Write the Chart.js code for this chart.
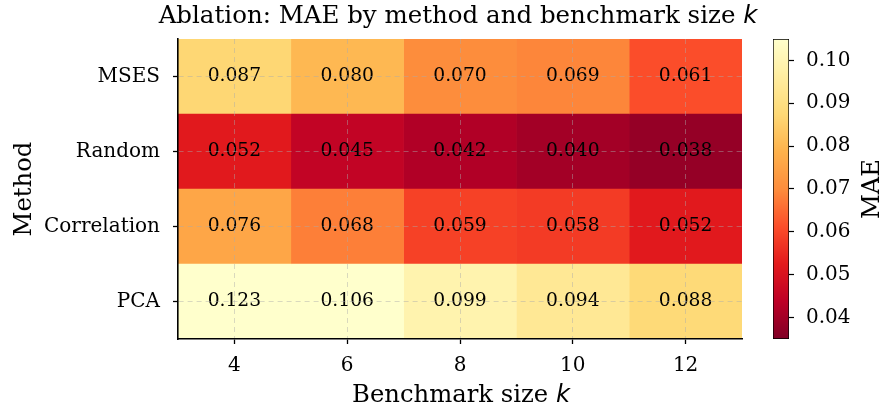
<!DOCTYPE html>
<html lang="en">
<head>
    <meta charset="UTF-8">
    <title>Ablation: MAE by method and benchmark size k</title>
    <script src="https://cdn.jsdelivr.net/npm/chart.js"></script>
    <style>
        body { margin: 0; background: #fff; }
        #wrap { position: relative; width: 881px; height: 410px; }
        #heat { position: absolute; left: 0; top: 0; }
        #cbar { position: absolute; left: 745px; top: 0; }
    </style>
</head>
<body>

    <div id="wrap">
        <canvas id="heat" width="881" height="410"></canvas>
        <canvas id="cbar" width="136" height="410"></canvas>
    </div>

    <script>
        // Data
        const methods = ["MSES", "Random", "Correlation", "PCA"];
        const sizes = [4, 6, 8, 10, 12];
        const maeMSES = [0.087, 0.080, 0.070, 0.069, 0.061];
        const maeRandom = [0.052, 0.045, 0.042, 0.040, 0.038];
        const maeCorrelation = [0.076, 0.068, 0.059, 0.058, 0.052];
        const maePCA = [0.123, 0.106, 0.099, 0.094, 0.088];
        const colorbarTicks = [0.04, 0.05, 0.06, 0.07, 0.08, 0.09, 0.10];
        const VMIN = 0.035, VMAX = 0.105;

        const rows = [maeMSES, maeRandom, maeCorrelation, maePCA];
        const SERIF = "'DejaVu Serif', serif";
        Chart.defaults.color = "#000";
        Chart.defaults.font.family = SERIF;

        // YlOrRd reversed (low = dark red, high = pale yellow)
        const YLORRD = ["#ffffcc", "#ffeda0", "#fed976", "#feb24c", "#fd8d3c", "#fc4e2a", "#e31a1c", "#bd0026", "#800026"];
        function hex(h) { return [1, 3, 5].map(i => parseInt(h.substr(i, 2), 16)); }
        function cmap(v) {
            let t = (v - VMIN) / (VMAX - VMIN);
            t = Math.min(1, Math.max(0, t));
            const p = (1 - t) * (YLORRD.length - 1);
            const i = Math.min(Math.floor(p), YLORRD.length - 2);
            const f = p - i;
            const a = hex(YLORRD[i]), b = hex(YLORRD[i + 1]);
            const c = a.map((x, k) => Math.round(x + (b[k] - x) * f));
            return `rgb(${c[0]},${c[1]},${c[2]})`;
        }

        // one floating-bar dataset per benchmark size, spanning k-1 .. k+1
        const datasets = sizes.map((k, j) => ({
            data: methods.map(() => [k - 1, k + 1]),
            values: rows.map(r => r[j]),
            backgroundColor: rows.map(r => cmap(r[j])),
            borderWidth: 0,
            grouped: false,
            barPercentage: 1,
            categoryPercentage: 1
        }));

        const cellLabels = {
            id: "cellLabels",
            afterDatasetsDraw(chart) {
                const ctx = chart.ctx;
                ctx.save();
                ctx.font = "18.7px " + SERIF;
                ctx.fillStyle = "#000";
                ctx.textAlign = "center";
                ctx.textBaseline = "middle";
                chart.data.datasets.forEach((ds, j) => {
                    chart.getDatasetMeta(j).data.forEach((bar, i) => {
                        const x = chart.scales.x.getPixelForValue(sizes[j]);
                        ctx.fillText(ds.values[i].toFixed(3), x, bar.y);
                    });
                });
                ctx.restore();
            }
        };

        // title and x label have an italic "k", so they are drawn as two runs
        function mixedText(ctx, cx, y, plain, plainFont, ital, italFont) {
            ctx.font = plainFont;
            const w1 = ctx.measureText(plain).width;
            ctx.font = italFont;
            const w2 = ctx.measureText(ital).width;
            let x = cx - (w1 + w2) / 2;
            ctx.textAlign = "left";
            ctx.textBaseline = "alphabetic";
            ctx.font = plainFont;
            ctx.fillText(plain, x, y);
            ctx.font = italFont;
            ctx.fillText(ital, x + w1, y);
        }

        const headings = {
            id: "headings",
            afterDraw(chart) {
                const ctx = chart.ctx;
                const a = chart.chartArea;
                const cx = (a.left + a.right) / 2;
                ctx.save();
                ctx.fillStyle = "#000";
                mixedText(ctx, cx - 2, 23, "Ablation: MAE by method and benchmark size ", "24.5px " + SERIF,
                    "k", "italic 24.5px 'DejaVu Sans'");
                mixedText(ctx, cx + 1, 401.5, "Benchmark size ", "24.3px " + SERIF,
                    "k", "italic 24.3px 'DejaVu Sans'");
                ctx.restore();
            }
        };

        const gridStyle = {
            z: 1,
            color: "rgba(170,170,170,0.45)",
            lineWidth: 1,
            tickColor: "#000",
            tickLength: 5,
            tickWidth: 1.3
        };

        new Chart(document.getElementById("heat"), {
            type: "bar",
            data: { labels: methods, datasets: datasets },
            options: {
                indexAxis: "y",
                responsive: false,
                animation: false,
                layout: { padding: { top: 39, right: 139, left: 0, bottom: 0 } },
                plugins: { legend: { display: false }, tooltip: { enabled: false } },
                scales: {
                    x: {
                        type: "linear",
                        min: 3,
                        max: 13,
                        afterBuildTicks: s => { s.ticks = sizes.map(v => ({ value: v })); },
                        afterFit: s => { s.height = 71; },
                        ticks: { font: { size: 20 }, padding: 10, maxRotation: 0 },
                        grid: gridStyle,
                        border: { display: true, z: 2, color: "#000", width: 1.6, dash: [5, 4] }
                    },
                    y: {
                        type: "category",
                        afterFit: s => { s.width = 178; },
                        ticks: { font: { size: 20 }, padding: 13 },
                        grid: Object.assign({ offset: false }, gridStyle),
                        border: { display: true, z: 2, color: "#000", width: 1.6, dash: [5, 4] },
                        title: { display: true, text: "Method", font: { size: 24.3 }, padding: { top: 10, bottom: 0 } }
                    }
                }
            },
            plugins: [cellLabels, headings]
        });

        // colour bar
        const cbLabel = {
            id: "cbLabel",
            afterDraw(chart) {
                const ctx = chart.ctx;
                const a = chart.chartArea;
                ctx.save();
                ctx.translate(134, (a.top + a.bottom) / 2);
                ctx.rotate(-Math.PI / 2);
                ctx.font = "24.3px " + SERIF;
                ctx.fillStyle = "#000";
                ctx.textAlign = "center";
                ctx.textBaseline = "alphabetic";
                ctx.fillText("MAE", 0, 0);
                ctx.restore();
            }
        };

        new Chart(document.getElementById("cbar"), {
            type: "bar",
            data: {
                labels: ["MAE"],
                datasets: [{
                    data: [[VMIN, VMAX]],
                    backgroundColor: c => {
                        const area = c.chart.chartArea;
                        if (!area) return "#fff";
                        const g = c.chart.ctx.createLinearGradient(0, area.bottom, 0, area.top);
                        for (let s = 0; s <= 40; s++) {
                            g.addColorStop(s / 40, cmap(VMIN + (VMAX - VMIN) * s / 40));
                        }
                        return g;
                    },
                    borderColor: "#000",
                    borderWidth: 1,
                    borderSkipped: false,
                    barPercentage: 1,
                    categoryPercentage: 1
                }]
            },
            options: {
                responsive: false,
                animation: false,
                layout: { padding: { top: 39, bottom: 71, left: 28, right: 0 } },
                plugins: { legend: { display: false }, tooltip: { enabled: false } },
                scales: {
                    x: { display: false },
                    y: {
                        position: "right",
                        min: VMIN,
                        max: VMAX,
                        afterBuildTicks: s => { s.ticks = colorbarTicks.map(v => ({ value: v })); },
                        afterFit: s => { s.width = 92; },
                        ticks: { font: { size: 20 }, padding: 12, callback: v => v.toFixed(2) },
                        grid: { drawOnChartArea: false, tickColor: "#000", tickLength: 5, tickWidth: 1.2 },
                        border: { display: false }
                    }
                }
            },
            plugins: [cbLabel]
        });
    </script>

</body>
</html>
